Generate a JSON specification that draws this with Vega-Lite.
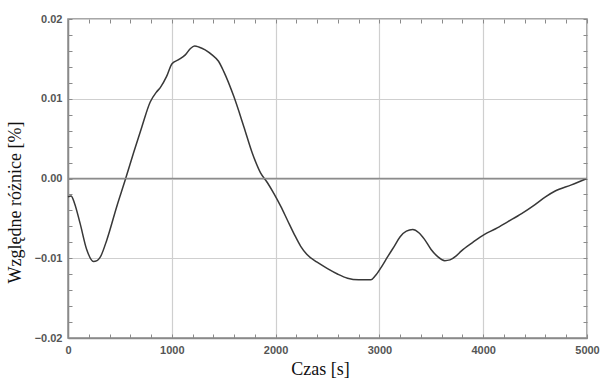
{
  "$schema": "https://vega.github.io/schema/vega-lite/v6.json",
  "autosize": "none",
  "width": 519,
  "height": 319,
  "padding": {"left": 68, "top": 19, "right": 15, "bottom": 40},
  "background": "white",
  "config": {
    "view": {"stroke": "#8a8a8a", "strokeWidth": 1.5},
    "axis": {
      "labelFont": "Liberation Sans",
      "labelFontSize": 11,
      "labelFontWeight": "bold",
      "labelColor": "#555555",
      "titleFont": "Liberation Serif",
      "titleFontSize": 18,
      "titleFontWeight": "normal",
      "titleColor": "#111111",
      "domainColor": "#8a8a8a",
      "domainWidth": 1.5,
      "tickColor": "#8a8a8a",
      "gridColor": "#cfcfcf",
      "gridWidth": 1.2
    }
  },
  "data": {
    "values": [
      {"t": 0, "v": -0.0023}, {"t": 30, "v": -0.0022}, {"t": 60, "v": -0.0030},
      {"t": 116, "v": -0.0056}, {"t": 180, "v": -0.0089}, {"t": 245, "v": -0.0104},
      {"t": 280, "v": -0.0103}, {"t": 309, "v": -0.0099}, {"t": 374, "v": -0.0077},
      {"t": 470, "v": -0.0035}, {"t": 551, "v": -0.0002}, {"t": 631, "v": 0.0032},
      {"t": 712, "v": 0.0065}, {"t": 792, "v": 0.0096}, {"t": 850, "v": 0.0108},
      {"t": 889, "v": 0.0114}, {"t": 950, "v": 0.0128}, {"t": 1002, "v": 0.0144},
      {"t": 1066, "v": 0.0149}, {"t": 1130, "v": 0.0155}, {"t": 1180, "v": 0.0163},
      {"t": 1220, "v": 0.0166}, {"t": 1259, "v": 0.0165}, {"t": 1388, "v": 0.0155},
      {"t": 1450, "v": 0.0147}, {"t": 1501, "v": 0.0134}, {"t": 1597, "v": 0.0103},
      {"t": 1694, "v": 0.0065}, {"t": 1775, "v": 0.0032}, {"t": 1855, "v": 0.0007},
      {"t": 1920, "v": -0.0005}, {"t": 1984, "v": -0.0019}, {"t": 2050, "v": -0.0035},
      {"t": 2113, "v": -0.0052}, {"t": 2180, "v": -0.0070}, {"t": 2242, "v": -0.0085},
      {"t": 2300, "v": -0.0095}, {"t": 2400, "v": -0.0105}, {"t": 2500, "v": -0.0113},
      {"t": 2600, "v": -0.0120}, {"t": 2693, "v": -0.0125}, {"t": 2800, "v": -0.0127},
      {"t": 2918, "v": -0.0127}, {"t": 2960, "v": -0.0122}, {"t": 3014, "v": -0.0112},
      {"t": 3080, "v": -0.0098}, {"t": 3143, "v": -0.0085}, {"t": 3200, "v": -0.0073},
      {"t": 3260, "v": -0.0066}, {"t": 3321, "v": -0.0064}, {"t": 3380, "v": -0.0068},
      {"t": 3433, "v": -0.0076}, {"t": 3498, "v": -0.0089}, {"t": 3562, "v": -0.0098},
      {"t": 3630, "v": -0.0103}, {"t": 3680, "v": -0.0102}, {"t": 3740, "v": -0.0097},
      {"t": 3788, "v": -0.0091}, {"t": 3900, "v": -0.0080}, {"t": 4013, "v": -0.0070},
      {"t": 4120, "v": -0.0063}, {"t": 4239, "v": -0.0054}, {"t": 4370, "v": -0.0044},
      {"t": 4496, "v": -0.0033}, {"t": 4600, "v": -0.0023}, {"t": 4689, "v": -0.0016},
      {"t": 4850, "v": -0.0008}, {"t": 5000, "v": 0.0}
    ]
  },
  "resolve": {"axis": {"x": "independent", "y": "independent"}},
  "layer": [
    {
      "mark": {"type": "line", "color": "#383838", "strokeWidth": 1.5, "interpolate": "monotone"},
      "encoding": {
        "x": {
          "field": "t", "type": "quantitative",
          "scale": {"domain": [0, 5000], "nice": false, "zero": false},
          "axis": {
            "title": "Czas [s]",
            "values": [0,200,400,600,800,1000,1200,1400,1600,1800,2000,2200,2400,2600,2800,3000,3200,3400,3600,3800,4000,4200,4400,4600,4800,5000],
            "labelExpr": "datum.value % 1000 === 0 ? datum.label : ''",
            "format": "d",
            "gridOpacity": {"condition": {"test": "datum.value % 1000 === 0", "value": 1}, "value": 0},
            "tickSize": -4,
            "labelPadding": 10,
            "labelFlush": false,
            "titleX": 252,
            "titleY": 36,
            "titleBaseline": "alphabetic",
            "titleAlign": "center"
          }
        },
        "y": {
          "field": "v", "type": "quantitative",
          "scale": {"domain": [-0.02, 0.02], "nice": false, "zero": false},
          "axis": {
            "title": "Względne różnice [%]",
            "values": [-0.02,-0.018,-0.016,-0.014,-0.012,-0.01,-0.008,-0.006,-0.004,-0.002,0,0.002,0.004,0.006,0.008,0.01,0.012,0.014,0.016,0.018,0.02],
            "labelExpr": "abs(round(datum.value*1000)) % 10 === 0 ? format(datum.value, '.2f') : ''",
            "gridOpacity": {"condition": {"test": "abs(round(datum.value*1000)) % 10 === 0", "value": 1}, "value": 0},
            "tickSize": -4,
            "labelPadding": 10,
            "labelFlush": false,
            "titleX": -48,
            "titleY": 183,
            "titleAngle": -90,
            "titleBaseline": "alphabetic",
            "titleAlign": "center"
          }
        }
      }
    },
    {
      "data": {"values": [{"z": 0}]},
      "mark": {"type": "rule", "color": "#8c8c8c", "strokeWidth": 1.5},
      "encoding": {
        "y": {"field": "z", "type": "quantitative",
          "axis": {
            "orient": "right", "title": null, "labels": false, "grid": false, "domain": false,
            "values": [-0.02,-0.018,-0.016,-0.014,-0.012,-0.01,-0.008,-0.006,-0.004,-0.002,0,0.002,0.004,0.006,0.008,0.01,0.012,0.014,0.016,0.018,0.02],
            "tickSize": -4
          }
        }
      }
    },
    {
      "data": {"values": [{"x0": 0}]},
      "mark": {"type": "rule", "opacity": 0},
      "encoding": {
        "x": {"field": "x0", "type": "quantitative",
          "axis": {
            "orient": "top", "title": null, "labels": false, "grid": false, "domain": false,
            "values": [0,200,400,600,800,1000,1200,1400,1600,1800,2000,2200,2400,2600,2800,3000,3200,3400,3600,3800,4000,4200,4400,4600,4800,5000],
            "tickSize": -4
          }
        }
      }
    }
  ]
}
